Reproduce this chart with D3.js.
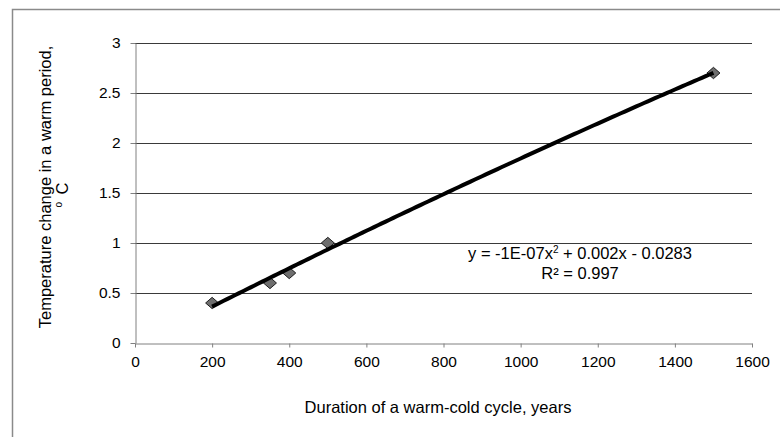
<!DOCTYPE html>
<html>
<head>
<meta charset="utf-8">
<script src="https://cdn.jsdelivr.net/npm/d3@7"></script>
<style>
  body { margin: 0; background: #fff; }
  svg text { font-family: "Liberation Sans", Arial, sans-serif; fill: #000; }
</style>
</head>
<body>
<svg id="chart" width="780" height="437"></svg>
<script>
// values
const cycleYears = [200, 350, 400, 500, 1500];
const tempChange = [0.4, 0.6, 0.7, 1.0, 2.7];
const xTicks = [0, 200, 400, 600, 800, 1000, 1200, 1400, 1600];
const yTicks = [0, 0.5, 1, 1.5, 2, 2.5, 3];

const svg = d3.select("#chart");
const margin = {left: 135, top: 43, right: 28, bottom: 94};
const W = 780, H = 437;

// outer chart frame (runs past the picture on right and bottom)
svg.append("rect")
  .attr("x", 12.5).attr("y", 9.5)
  .attr("width", W).attr("height", H)
  .attr("fill", "none").attr("stroke", "#8a8a8a").attr("stroke-width", 1.5);

const x = d3.scaleLinear().domain([0, 1600]).range([margin.left, W - margin.right]);
const y = d3.scaleLinear().domain([0, 3]).range([H - margin.bottom, margin.top]);

// gridlines
svg.append("g").selectAll("line")
  .data(yTicks.filter(d => d > 0))
  .enter().append("line")
  .attr("x1", x(0)).attr("x2", x(1600))
  .attr("y1", d => Math.round(y(d)) + 0.5).attr("y2", d => Math.round(y(d)) + 0.5)
  .attr("stroke", "#3a3a3a").attr("stroke-width", 1);

// axes
const xAxis = svg.append("g")
  .attr("transform", `translate(0,${Math.round(y(0)) + 0.5})`)
  .call(d3.axisBottom(x).tickValues(xTicks).tickFormat(d3.format("d"))
    .tickSize(4).tickPadding(8).tickSizeOuter(0));
const yAxis = svg.append("g")
  .attr("transform", `translate(${Math.round(x(0)) + 0.5},0)`)
  .call(d3.axisLeft(y).tickValues(yTicks).tickFormat(d3.format(""))
    .tickSize(5).tickPadding(10).tickSizeOuter(0));

[xAxis, yAxis].forEach(g => {
  g.select(".domain").attr("stroke", "#808080");
  g.selectAll(".tick line").attr("stroke", "#808080");
  g.selectAll(".tick text").attr("font-size", 15.5).attr("fill", "#000")
    .attr("font-family", "Liberation Sans, Arial, sans-serif");
});

// quadratic least squares trendline
function quadFit(xs, ys) {
  const S = (f) => d3.sum(xs.map((v, i) => f(v, ys[i])));
  const n = xs.length;
  const sx = S(v => v), sx2 = S(v => v * v), sx3 = S(v => v ** 3), sx4 = S(v => v ** 4);
  const sy = S((v, w) => w), sxy = S((v, w) => v * w), sx2y = S((v, w) => v * v * w);
  const A = [[sx4, sx3, sx2, sx2y], [sx3, sx2, sx, sxy], [sx2, sx, n, sy]];
  for (let i = 0; i < 3; i++) {
    for (let k = i + 1; k < 3; k++) {
      const f = A[k][i] / A[i][i];
      for (let j = i; j < 4; j++) A[k][j] -= f * A[i][j];
    }
  }
  const c = [0, 0, 0];
  for (let i = 2; i >= 0; i--) {
    let s = A[i][3];
    for (let j = i + 1; j < 3; j++) s -= A[i][j] * c[j];
    c[i] = s / A[i][i];
  }
  return c; // a, b, c
}
const coef = quadFit(cycleYears, tempChange);
const fitPts = d3.range(d3.min(cycleYears), d3.max(cycleYears) + 1, 10)
  .map(v => [v, coef[0] * v * v + coef[1] * v + coef[2]]);

// markers
const pts = cycleYears.map((v, i) => [v, tempChange[i]]);
svg.append("g").selectAll("path")
  .data(pts).enter().append("path")
  .attr("d", d3.symbol().type(d3.symbolSquare).size(64))
  .attr("transform", d => `translate(${x(d[0])},${y(d[1])}) scale(1.15,1) rotate(45)`)
  .attr("fill", "#6e6e6e").attr("stroke", "#141414").attr("stroke-width", 0.8);

svg.append("path")
  .datum(fitPts)
  .attr("d", d3.line().x(d => x(d[0])).y(d => y(d[1])))
  .attr("fill", "none").attr("stroke", "#000").attr("stroke-width", 4);

// equation label
const eq = svg.append("text").attr("x", 580).attr("y", 259)
  .attr("text-anchor", "middle").attr("font-size", 16.5);
eq.append("tspan").text("y = -1E-07x");
eq.append("tspan").attr("font-size", 10).attr("dy", -6).text("2");
eq.append("tspan").attr("dy", 6).text(" + 0.002x - 0.0283");
svg.append("text").attr("x", 580).attr("y", 279)
  .attr("text-anchor", "middle").attr("font-size", 16.5).text("R² = 0.997");

// axis titles
svg.append("text").attr("x", 438).attr("y", 413)
  .attr("text-anchor", "middle").attr("font-size", 16.5)
  .text("Duration of a warm-cold cycle, years");

const yt = svg.append("g").attr("transform", "translate(0,187) rotate(-90)");
yt.append("text").attr("x", 0).attr("y", 51)
  .attr("text-anchor", "middle").attr("font-size", 16.5)
  .text("Temperature change in a warm period,");
const yt2 = yt.append("text").attr("x", -8).attr("y", 68)
  .attr("text-anchor", "middle").attr("font-size", 16.5);
yt2.append("tspan").attr("font-size", 10).attr("dy", -6).text("o");
yt2.append("tspan").attr("dy", 6).attr("dx", 3).text(" C");
</script>
</body>
</html>
